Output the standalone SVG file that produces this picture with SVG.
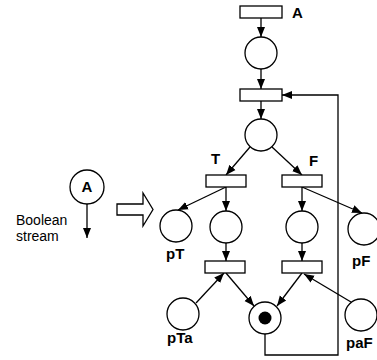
<svg xmlns="http://www.w3.org/2000/svg" width="377" height="360" viewBox="0 0 377 360">
<style>
.pl{fill:#fff;stroke:#000;stroke-width:1.3}
.tr{fill:#fff;stroke:#000;stroke-width:1.3}
.c{fill:none;stroke:#000;stroke-width:1.3}
.lb{font-family:"Liberation Sans",Arial,sans-serif;font-weight:bold;font-size:15px;fill:#000}
.tx{font-family:"Liberation Sans",Arial,sans-serif;font-size:14px;fill:#000}
</style>
<defs>
<marker id="ah" markerUnits="userSpaceOnUse" markerWidth="10" markerHeight="10" viewBox="0 0 10 10" refX="10" refY="5" orient="auto">
<path d="M0,1 L10,5 L0,9 z" fill="#000"/>
</marker>
</defs>
<rect width="377" height="360" fill="#fff"/>
<g id="connectors">
<line class="c" x1="261" y1="18" x2="261" y2="37" marker-end="url(#ah)"/>
<line class="c" x1="261" y1="69" x2="261" y2="89" marker-end="url(#ah)"/>
<line class="c" x1="261" y1="101" x2="261" y2="119" marker-end="url(#ah)"/>
<line class="c" x1="250" y1="147" x2="226" y2="175" marker-end="url(#ah)"/>
<line class="c" x1="272" y1="147" x2="302" y2="175" marker-end="url(#ah)"/>
<line class="c" x1="226" y1="187" x2="178" y2="210" marker-end="url(#ah)"/>
<line class="c" x1="226" y1="187" x2="226" y2="211" marker-end="url(#ah)"/>
<line class="c" x1="302" y1="187" x2="302" y2="211" marker-end="url(#ah)"/>
<line class="c" x1="302" y1="187" x2="362" y2="213" marker-end="url(#ah)"/>
<line class="c" x1="226" y1="243" x2="226" y2="261" marker-end="url(#ah)"/>
<line class="c" x1="302" y1="243" x2="302" y2="261" marker-end="url(#ah)"/>
<line class="c" x1="196" y1="303" x2="224" y2="273" marker-end="url(#ah)"/>
<line class="c" x1="226" y1="273" x2="254" y2="306" marker-end="url(#ah)"/>
<line class="c" x1="302" y1="273" x2="277" y2="306" marker-end="url(#ah)"/>
<line class="c" x1="351" y1="302" x2="304" y2="274" marker-end="url(#ah)"/>
<polyline class="c" points="265,334 265,355 338,355 338,95 282,95" marker-end="url(#ah)"/>
<line class="c" x1="87" y1="204" x2="87" y2="238" marker-end="url(#ah)"/>
</g>
<g id="tA"><rect class="tr" x="240" y="6" width="42" height="12"/><text class="lb" x="292" y="18">A</text></g>
<g id="p1"><circle class="pl" cx="261" cy="53" r="16"/></g>
<g id="t2"><rect class="tr" x="240" y="89" width="42" height="12"/></g>
<g id="p2"><circle class="pl" cx="261" cy="135" r="16"/></g>
<g id="tT"><rect class="tr" x="206" y="175" width="40" height="12"/><text class="lb" x="211" y="164">T</text></g>
<g id="tF"><rect class="tr" x="282" y="175" width="40" height="12"/><text class="lb" x="309" y="166">F</text></g>
<g id="pT"><circle class="pl" cx="176" cy="226" r="16"/><text class="lb" x="166" y="259">pT</text></g>
<g id="pTb"><circle class="pl" cx="226" cy="227" r="16"/></g>
<g id="pFb"><circle class="pl" cx="302" cy="227" r="16"/></g>
<g id="pF"><circle class="pl" cx="364" cy="229" r="16"/><text class="lb" x="352" y="266">pF</text></g>
<g id="tL"><rect class="tr" x="205" y="261" width="40" height="12"/></g>
<g id="tR"><rect class="tr" x="282" y="261" width="40" height="12"/></g>
<g id="pTa"><circle class="pl" cx="183" cy="314" r="16"/><text class="lb" x="167" y="343">pTa</text></g>
<g id="pM"><circle class="pl" cx="265" cy="318" r="16"/><circle cx="265" cy="318" r="6.5" fill="#000"/></g>
<g id="paF"><circle class="pl" cx="361" cy="315" r="16"/><text class="lb" x="346" y="348">paF</text></g>
<g id="legend">
<circle class="pl" cx="87" cy="187" r="17"/>
<text class="lb" x="87" y="192" text-anchor="middle">A</text>
<text class="tx" x="16" y="225">Boolean</text>
<text class="tx" x="16" y="241">stream</text>
<polygon class="pl" points="117,204 143,204 143,193 153,209.5 143,226 143,215 117,215"/>
</g>
</svg>
